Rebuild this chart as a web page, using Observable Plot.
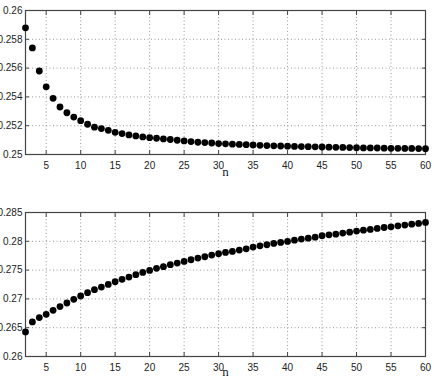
<!DOCTYPE html>
<html>
<head>
<meta charset="utf-8">
<script src="https://cdn.jsdelivr.net/npm/d3@7"></script>
<script src="https://cdn.jsdelivr.net/npm/@observablehq/plot@0.6"></script>
<style>
  html, body { margin: 0; padding: 0; background: #fff; }
  #chart svg { display: block; }
</style>
</head>
<body>
<div id="chart"></div>
<script>
const nValues = d3.range(2, 61);
const topValues = [
  0.2588, 0.2574, 0.2558, 0.2547, 0.2539, 0.2533, 0.2529, 0.2526, 0.25235,
  0.2521, 0.2519, 0.2518, 0.25168, 0.25154, 0.25145, 0.25136, 0.25129, 0.25122,
  0.25117, 0.25113, 0.25108, 0.25104, 0.25099, 0.25094, 0.2509, 0.25085, 0.25083,
  0.2508, 0.25076, 0.25074, 0.25072, 0.2507, 0.25068, 0.25066, 0.25064, 0.25062,
  0.2506, 0.25059, 0.25058, 0.25056, 0.25055, 0.25054, 0.25053, 0.25052, 0.25051,
  0.2505, 0.25049, 0.25048, 0.25047, 0.25046, 0.25046, 0.25045, 0.25044, 0.25043,
  0.25043, 0.25042, 0.25042, 0.25041, 0.2504
];
const bottomValues = [
  0.26426, 0.2660, 0.26675, 0.26733, 0.26802, 0.26866, 0.26929, 0.26993, 0.2705,
  0.27108, 0.2716, 0.27206, 0.27252, 0.27298, 0.27339, 0.27379, 0.2742, 0.2746,
  0.27495, 0.2753, 0.27559, 0.27594, 0.27622, 0.27651, 0.2768, 0.27709, 0.27732,
  0.27761, 0.27784, 0.27807, 0.27824, 0.27847, 0.2787, 0.27899, 0.27922, 0.2794,
  0.27963, 0.2798, 0.27997, 0.2802, 0.28038, 0.28055, 0.28072, 0.28096, 0.28113,
  0.28124, 0.28142, 0.28159, 0.28177, 0.28194, 0.28206, 0.28223, 0.2824, 0.28252,
  0.28269, 0.28281, 0.28298, 0.2831, 0.28327
];
const xTicks = [5, 10, 15, 20, 25, 30, 35, 40, 45, 50, 55, 60];
const topYTicks = [0.25, 0.252, 0.254, 0.256, 0.258, 0.26];
const bottomYTicks = [0.26, 0.265, 0.27, 0.275, 0.28, 0.285];
const xLabel = "n";

const fmt = d => String(+d.toFixed(4));

function panel(values, yDomain, yTicks, opts) {
  const data = nValues.map((n, i) => ({n, v: values[i]}));
  return Plot.plot({
    width: 436,
    height: opts.height,
    marginLeft: 25,
    marginRight: 11,
    marginTop: opts.marginTop,
    marginBottom: opts.marginBottom,
    style: {fontFamily: "'Liberation Sans', Arial, sans-serif", fontSize: "10px", color: "#222", background: "#fff"},
    x: {domain: [2, 60]},
    y: {domain: yDomain},
    marks: [
      Plot.gridX(xTicks.slice(0, -1), {stroke: "#999", strokeOpacity: 1, strokeDasharray: "1,2.5"}),
      Plot.gridY(yTicks.slice(1, -1), {stroke: "#999", strokeOpacity: 1, strokeDasharray: "1,2.5"}),
      Plot.axisX(xTicks, {anchor: "bottom", tickSize: 0, tickPadding: 7, tickFormat: d => String(d), label: null}),
      Plot.axisX(xTicks, {anchor: "bottom", tickSize: -4, tickFormat: () => "", label: null, stroke: "#444"}),
      Plot.axisX(xTicks, {anchor: "top", tickSize: -4, tickFormat: () => "", label: null, stroke: "#444"}),
      Plot.axisY(yTicks, {anchor: "left", tickSize: 0, tickPadding: 3, tickFormat: fmt, label: null}),
      Plot.axisY(yTicks, {anchor: "left", tickSize: -4, tickFormat: () => "", label: null, stroke: "#444"}),
      Plot.axisY(yTicks, {anchor: "right", tickSize: -4, tickFormat: () => "", label: null, stroke: "#444"}),
      Plot.frame({stroke: "#444", strokeWidth: 1.2}),
      Plot.dot(data, {x: "n", y: "v", r: 3.4, fill: "#000", stroke: null}),
      Plot.text([xLabel], {frameAnchor: "bottom", dy: opts.labelDy, text: d => d, fontFamily: "'Liberation Serif', 'DejaVu Serif', serif", fontSize: 13, fill: "#222"})
    ]
  });
}

const chart = document.getElementById("chart");
chart.appendChild(panel(topValues, [0.25, 0.26], topYTicks, {height: 190, marginTop: 10, marginBottom: 36, labelDy: 21}));
chart.appendChild(panel(bottomValues, [0.26, 0.285], bottomYTicks, {height: 192, marginTop: 22, marginBottom: 26, labelDy: 19}));
</script>
</body>
</html>
